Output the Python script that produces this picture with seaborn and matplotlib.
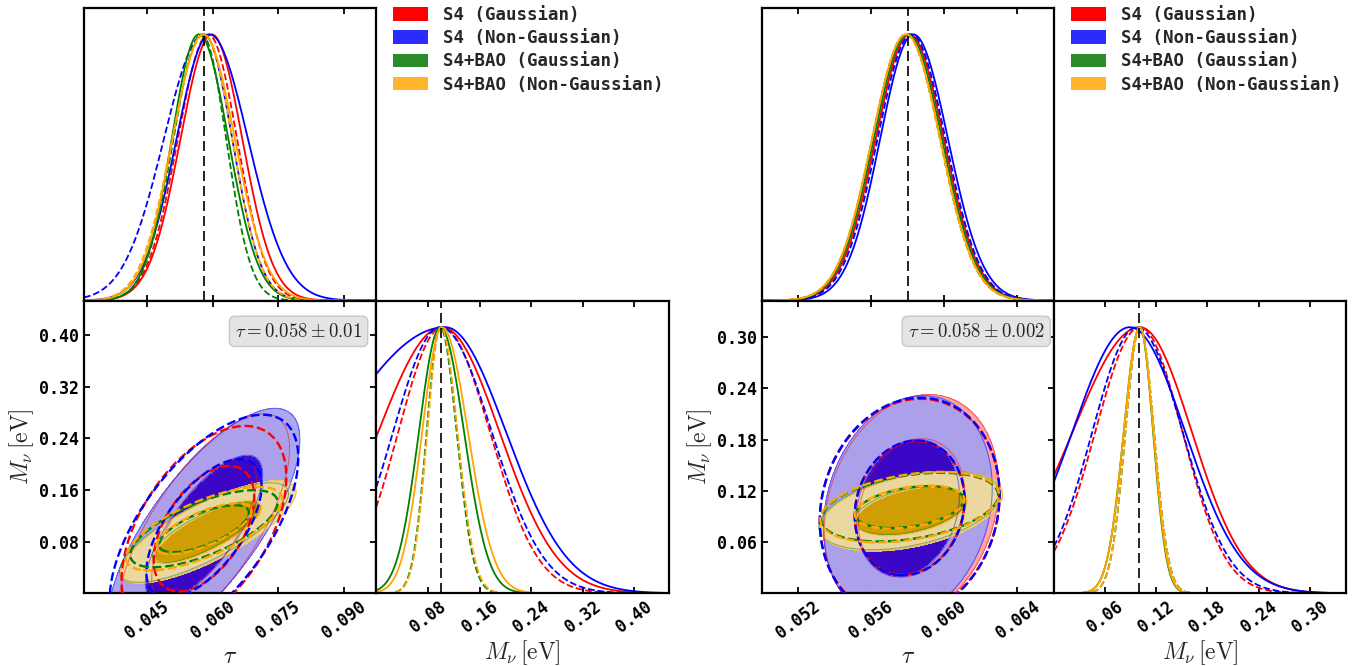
import numpy as np
import pandas as pd
import seaborn as sns
import matplotlib.pyplot as plt
from matplotlib.patches import Patch

sns.set_style("white")
plt.rcParams["font.family"] = ["DejaVu Sans"]
plt.rcParams["mathtext.fontset"] = "cm"

# series order: red, blue, green, orange
labels = ["S4 (Gaussian)", "S4 (Non-Gaussian)", "S4+BAO (Gaussian)", "S4+BAO (Non-Gaussian)"]
line_colors = ["#ff0000", "#0000ff", "#008000", "#ffa500"]
legend_colors = ["#ff0000", "#2b2bff", "#2a8c2a", "#ffb42b"]
fill_light = ["#ff9c9c", "#a4a0f0", "#a3d3a3", "#f2d9a0"]
fill_dark = ["#ff3a3a", "#2a00d2", "#3a963a", "#dda000"]

TAU_FID = 0.058
MNU_FID = 0.1

# ---- left triangle (tau prior 0.01) ----
L_tau_lim = (0.0305, 0.0975)
L_mnu_lim = (0.0, 0.453)
L_tau_ticks = [0.045, 0.060, 0.075, 0.090]
L_mnu_ticks = [0.08, 0.16, 0.24, 0.32, 0.40]
L_box = r"$\tau = 0.058 \pm 0.01$"

# 1D tau: peak, sigma below peak, sigma above peak
L_tau_peak_solid = [0.0598, 0.0593, 0.0568, 0.0578]
L_tau_lo_solid = [0.0072, 0.0076, 0.0062, 0.0070]
L_tau_hi_solid = [0.0070, 0.0088, 0.0068, 0.0073]
L_tau_peak_dash = [0.0590, 0.0580, 0.0575, 0.0580]
L_tau_lo_dash = [0.0070, 0.0092, 0.0065, 0.0073]
L_tau_hi_dash = [0.0066, 0.0065, 0.0056, 0.0065]
# 1D M_nu
L_mnu_peak_solid = [0.102, 0.107, 0.099, 0.102]
L_mnu_lo_solid = [0.099, 0.172, 0.033, 0.031]
L_mnu_hi_solid = [0.089, 0.094, 0.037, 0.040]
L_mnu_peak_dash = [0.102, 0.099, 0.099, 0.100]
L_mnu_lo_dash = [0.068, 0.073, 0.021, 0.021]
L_mnu_hi_dash = [0.074, 0.080, 0.0255, 0.026]
# 2D ellipses: centre, widths, correlation
L_cx_solid = [0.058, 0.058, 0.058, 0.059]
L_cy_solid = [0.100, 0.100, 0.094, 0.095]
L_sx_solid = [0.0079, 0.00885, 0.0078, 0.0081]
L_sy_solid = [0.0716, 0.075, 0.031, 0.032]
L_rho_solid = [0.70, 0.74, 0.78, 0.78]
L_cx_dash = [0.058, 0.058, 0.058, 0.058]
L_cy_dash = [0.100, 0.100, 0.100, 0.100]
L_sx_dash = [0.0076, 0.0087, 0.0068, 0.0072]
L_sy_dash = [0.064, 0.071, 0.024, 0.026]
L_rho_dash = [0.50, 0.62, 0.68, 0.70]

# ---- right triangle (tau prior 0.002) ----
R_tau_lim = (0.0500, 0.0660)
R_mnu_lim = (0.0, 0.343)
R_tau_ticks = [0.052, 0.056, 0.060, 0.064]
R_mnu_ticks = [0.06, 0.12, 0.18, 0.24, 0.30]
R_box = r"$\tau = 0.058 \pm 0.002$"

R_tau_peak_solid = [0.0581, 0.0583, 0.0580, 0.0579]
R_tau_lo_solid = [0.00187, 0.00182, 0.00187, 0.00187]
R_tau_hi_solid = [0.00187, 0.00190, 0.00187, 0.00187]
R_tau_peak_dash = [0.0581, 0.0582, 0.0579, 0.0579]
R_tau_lo_dash = [0.00186, 0.00186, 0.00186, 0.00186]
R_tau_hi_dash = [0.00186, 0.00186, 0.00186, 0.00186]
R_mnu_peak_solid = [0.1008, 0.089, 0.1008, 0.1008]
R_mnu_lo_solid = [0.079, 0.0676, 0.019, 0.019]
R_mnu_hi_solid = [0.061, 0.065, 0.0155, 0.0158]
R_mnu_peak_dash = [0.1008, 0.0969, 0.1008, 0.1008]
R_mnu_lo_dash = [0.0524, 0.052, 0.017, 0.017]
R_mnu_hi_dash = [0.050, 0.054, 0.0166, 0.0166]
R_cx_solid = [0.0582, 0.0580, 0.0581, 0.0582]
R_cy_solid = [0.100, 0.100, 0.097, 0.096]
R_sx_solid = [0.00192, 0.00186, 0.0020, 0.00201]
R_sy_solid = [0.0535, 0.053, 0.0185, 0.0188]
R_rho_solid = [0.20, 0.18, 0.42, 0.42]
R_cx_dash = [0.0581, 0.0581, 0.0581, 0.0581]
R_cy_dash = [0.100, 0.100, 0.101, 0.101]
R_sx_dash = [0.00198, 0.00198, 0.00195, 0.00197]
R_sy_dash = [0.0515, 0.052, 0.0162, 0.0166]
R_rho_dash = [0.12, 0.12, 0.35, 0.35]

LEVELS = [2.30, 6.17]   # 68% / 95% for 2 parameters

tick_font = dict(family="DejaVu Sans Mono", weight="bold", size=12)


def curves_1d(xlim, peaks_s, lo_s, hi_s, peaks_d, lo_d, hi_d):
    x = np.linspace(xlim[0], xlim[1], 500)
    rows = []
    for kind, pk, lo, hi in [("solid", peaks_s, lo_s, hi_s), ("dashed", peaks_d, lo_d, hi_d)]:
        for i, lab in enumerate(labels):
            sig = np.where(x < pk[i], lo[i], hi[i])
            y = np.exp(-0.5 * ((x - pk[i]) / sig) ** 2)
            rows.append(pd.DataFrame({"x": x, "y": y, "series": lab, "kind": kind}))
    return pd.concat(rows, ignore_index=True)


def chi2_grid(X, Y, cx, cy, sx, sy, rho):
    dx = (X - cx) / sx
    dy = (Y - cy) / sy
    return (dx ** 2 - 2 * rho * dx * dy + dy ** 2) / (1 - rho ** 2)


def style_axes(ax):
    for s in ax.spines.values():
        s.set_linewidth(1.6)
        s.set_color("black")
    ax.tick_params(direction="in", length=4.5, width=1.3, top=True, right=True,
                   bottom=True, left=True, colors="black")


def draw_triangle(x0, lims, ticks, data1d_tau, data1d_mnu, ell_solid, ell_dash, box):
    tau_lim, mnu_lim = lims
    tau_ticks, mnu_ticks = ticks
    W, H = 292.3 / 1367, 292.7 / 666
    ybot, ytop = (666 - 593.3) / 666, (666 - 300.5) / 666
    ax_t = fig.add_axes([x0, ytop, W, H])
    ax_2d = fig.add_axes([x0, ybot, W, H])
    ax_m = fig.add_axes([x0 + W, ybot, W, H])
    ax_leg = fig.add_axes([x0 + W, ytop, W, H])
    ax_leg.axis("off")

    palette = dict(zip(labels, line_colors))
    for ax, df, lim, tk, fid in [(ax_t, data1d_tau, tau_lim, tau_ticks, TAU_FID),
                                 (ax_m, data1d_mnu, mnu_lim, mnu_ticks, MNU_FID)]:
        sns.lineplot(data=df, x="x", y="y", hue="series", style="kind", palette=palette,
                     dashes={"solid": "", "dashed": (3.7, 1.6)}, estimator=None,
                     linewidth=1.3, legend=False, ax=ax)
        ax.axvline(fid, color="black", lw=1.2, dashes=(6, 3))
        ax.set_xlim(lim)
        ax.set_ylim(0, 1.1)
        ax.set_xticks(tk)
        ax.set_yticks([])
        ax.set_xlabel("")
        ax.set_ylabel("")
        style_axes(ax)
    ax_t.set_xticklabels([])

    tt = np.linspace(tau_lim[0], tau_lim[1], 400)
    mm = np.linspace(mnu_lim[0], mnu_lim[1], 400)
    X, Y = np.meshgrid(tt, mm)
    cx, cy, sx, sy, rho = ell_solid
    for i in range(4):
        c2 = chi2_grid(X, Y, cx[i], cy[i], sx[i], sy[i], rho[i])
        ax_2d.contourf(X, Y, c2, levels=[0, LEVELS[0], LEVELS[1]],
                       colors=[fill_dark[i], fill_light[i]], alpha=0.92, zorder=1 + i)
    for i in range(4):
        c2 = chi2_grid(X, Y, cx[i], cy[i], sx[i], sy[i], rho[i])
        ax_2d.contour(X, Y, c2, levels=LEVELS, colors=line_colors[i],
                      linewidths=0.8, alpha=0.45, zorder=6)
    cx, cy, sx, sy, rho = ell_dash
    for i in range(4):
        c2 = chi2_grid(X, Y, cx[i], cy[i], sx[i], sy[i], rho[i])
        ax_2d.contour(X, Y, c2, levels=LEVELS, colors=line_colors[i],
                      linewidths=1.7, linestyles="--", zorder=7 + i)
    ax_2d.set_xlim(tau_lim)
    ax_2d.set_ylim(mnu_lim)
    ax_2d.set_xticks(tau_ticks)
    ax_2d.set_yticks(mnu_ticks)
    style_axes(ax_2d)
    ax_2d.text(0.734, 0.895, box, transform=ax_2d.transAxes, ha="center", va="center",
               fontsize=13.5, zorder=20,
               bbox=dict(boxstyle="round,pad=0.3", fc="#e4e4e4", ec="#c8c8c8"))

    for ax, fmt in [(ax_2d, "{:.3f}"), (ax_m, "{:.2f}")]:
        ax.set_xticklabels([fmt.format(v) for v in ax.get_xticks()],
                           rotation=37, ha="center", va="top", **tick_font)
    ax_2d.set_yticklabels(["{:.2f}".format(v) for v in mnu_ticks], **tick_font)
    ax_2d.set_xlabel(r"$\tau$", fontsize=17, labelpad=1)
    ax_m.set_xlabel(r"$M_\nu\,[\mathrm{eV}]$", fontsize=17, labelpad=1)
    ax_2d.set_ylabel(r"$M_\nu\,[\mathrm{eV}]$", fontsize=17, labelpad=2)

    handles = [Patch(facecolor=c, edgecolor="none") for c in legend_colors]
    ax_leg.legend(handles, labels, loc="upper left", bbox_to_anchor=(0.035, 1.03),
                  frameon=False, handlelength=2.0, handleheight=0.8, handletextpad=0.85,
                  labelspacing=0.3, borderaxespad=0,
                  prop=dict(family="DejaVu Sans Mono", weight="bold", size=12.5))


fig = plt.figure(figsize=(13.67, 6.66), dpi=100)

draw_triangle(84 / 1367, (L_tau_lim, L_mnu_lim), (L_tau_ticks, L_mnu_ticks),
              curves_1d(L_tau_lim, L_tau_peak_solid, L_tau_lo_solid, L_tau_hi_solid,
                        L_tau_peak_dash, L_tau_lo_dash, L_tau_hi_dash),
              curves_1d(L_mnu_lim, L_mnu_peak_solid, L_mnu_lo_solid, L_mnu_hi_solid,
                        L_mnu_peak_dash, L_mnu_lo_dash, L_mnu_hi_dash),
              (L_cx_solid, L_cy_solid, L_sx_solid, L_sy_solid, L_rho_solid),
              (L_cx_dash, L_cy_dash, L_sx_dash, L_sy_dash, L_rho_dash), L_box)

draw_triangle(761.7 / 1367, (R_tau_lim, R_mnu_lim), (R_tau_ticks, R_mnu_ticks),
              curves_1d(R_tau_lim, R_tau_peak_solid, R_tau_lo_solid, R_tau_hi_solid,
                        R_tau_peak_dash, R_tau_lo_dash, R_tau_hi_dash),
              curves_1d(R_mnu_lim, R_mnu_peak_solid, R_mnu_lo_solid, R_mnu_hi_solid,
                        R_mnu_peak_dash, R_mnu_lo_dash, R_mnu_hi_dash),
              (R_cx_solid, R_cy_solid, R_sx_solid, R_sy_solid, R_rho_solid),
              (R_cx_dash, R_cy_dash, R_sx_dash, R_sy_dash, R_rho_dash), R_box)

fig.savefig("out.png", dpi=100)
